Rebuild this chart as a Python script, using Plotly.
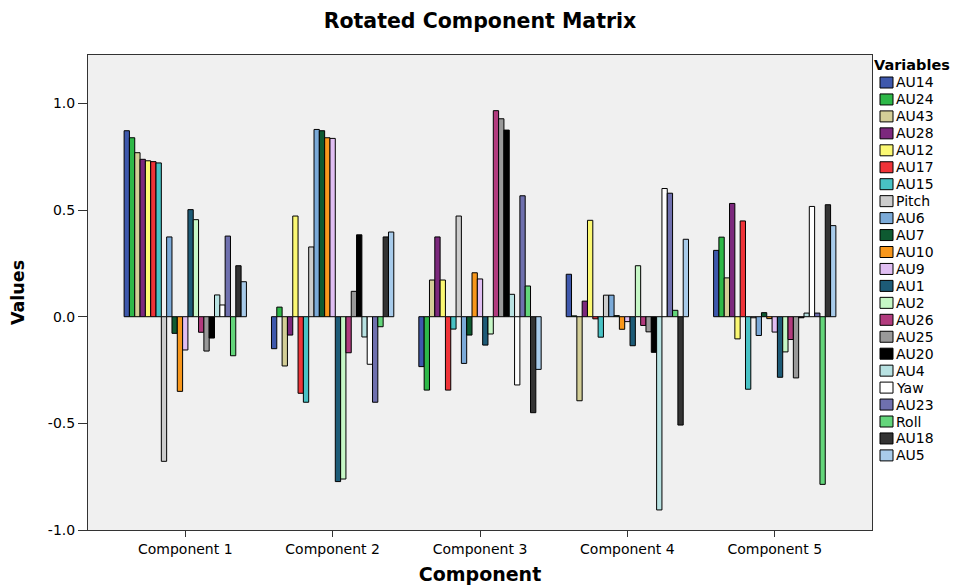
import plotly.graph_objects as go

components = ["Component 1", "Component 2", "Component 3", "Component 4", "Component 5"]
variables = ["AU14", "AU24", "AU43", "AU28", "AU12", "AU17", "AU15", "Pitch", "AU6", "AU7",
             "AU10", "AU9", "AU1", "AU2", "AU26", "AU25", "AU20", "AU4", "Yaw", "AU23",
             "Roll", "AU18", "AU5"]
colors = ["#3E58AC", "#2EB848", "#D3CE97", "#7C287D", "#FBF873", "#EF3338", "#48C2C5",
          "#CCCCCC", "#7BAAD8", "#0E5A31", "#F8971C", "#E0BEF2", "#1D5B77", "#C6F7C6",
          "#B23B7E", "#999999", "#000000", "#B8E2E2", "#FFFFFF", "#6F70AE", "#63D57A",
          "#333333", "#A8CBEA"]

comp1 = [0.872, 0.839, 0.769, 0.738, 0.731, 0.727, 0.721, -0.678, 0.374, -0.078,
         -0.350, -0.156, 0.502, 0.455, -0.073, -0.161, -0.100, 0.102, 0.055, 0.378,
         -0.183, 0.239, 0.164]
comp2 = [-0.150, 0.045, -0.231, -0.086, 0.472, -0.359, -0.401, 0.327, 0.878, 0.872,
         0.839, 0.836, -0.773, -0.761, -0.169, 0.119, 0.384, -0.095, -0.223, -0.401,
         -0.047, 0.374, 0.397]
comp3 = [-0.234, -0.344, 0.172, 0.374, 0.172, -0.344, -0.058, 0.472, -0.219, -0.086,
         0.206, 0.177, -0.133, -0.081, 0.966, 0.928, 0.875, 0.105, -0.320, 0.567,
         0.144, -0.450, -0.247]
comp4 = [0.199, 0.004, -0.394, 0.073, 0.452, -0.010, -0.096, 0.101, 0.101, 0.005,
         -0.059, -0.023, -0.136, 0.239, -0.041, -0.071, -0.167, -0.906, 0.601, 0.579,
         0.030, -0.508, 0.363]
comp5 = [0.311, 0.373, 0.182, 0.531, -0.104, 0.449, -0.340, -0.005, -0.088, 0.019,
         -0.009, -0.072, -0.284, -0.165, -0.107, -0.287, -0.005, 0.017, 0.517, 0.017,
         -0.786, 0.525, 0.427]

y_ticks = [-1.0, -0.5, 0.0, 0.5, 1.0]
y_ticklabels = ["-1.0", "-0.5", "0.0", "0.5", "1.0"]

FONT = "DejaVu Sans, Liberation Sans, Arial, sans-serif"
comps = [comp1, comp2, comp3, comp4, comp5]

# figure geometry (page body has an 8px margin)
W, H = 950, 577
ML, MR, MT, MB = 80, 86, 47, 55
PW, PH = W - ML - MR, H - MT - MB
OFF = 8


def px_x(sx):
    return (sx - OFF - ML) / PW


def px_y(sy):
    return (H - MB - (sy - OFF)) / PH


fig = go.Figure()
for i, (var, col) in enumerate(zip(variables, colors)):
    fig.add_trace(go.Bar(
        name=var,
        x=components,
        y=[c[i] for c in comps],
        marker=dict(color=col, line=dict(color="#000000", width=1)),
        showlegend=False,
    ))

# custom legend (SPSS style, compact)
shapes = []
annotations = [dict(text="<b>Variables</b>", xref="paper", yref="paper",
                    x=px_x(872), y=px_y(65), xanchor="left", yanchor="middle",
                    showarrow=False, font=dict(family=FONT, size=14.5, color="#000000"))]
step = 16.95
for i, (var, col) in enumerate(zip(variables, colors)):
    cy = 82.5 + step * i
    shapes.append(dict(type="rect", xref="paper", yref="paper",
                       x0=px_x(880), x1=px_x(893), y0=px_y(cy - 5.5), y1=px_y(cy + 5.5),
                       fillcolor=col, line=dict(color="#000000", width=1)))
    annotations.append(dict(text=var, xref="paper", yref="paper",
                            x=px_x(894), y=px_y(cy), xanchor="left", yanchor="middle",
                            showarrow=False, font=dict(family=FONT, size=14, color="#000000")))

fig.update_layout(
    width=W, height=H,
    barmode="group", bargap=0.17, bargroupgap=0,
    paper_bgcolor="#FFFFFF", plot_bgcolor="#F0F0F0",
    margin=dict(l=ML, r=MR, t=MT, b=MB, autoexpand=False),
    font=dict(family=FONT, size=14, color="#000000"),
    title=dict(text="<b>Rotated Component Matrix</b>", x=0.5, xref="paper", xanchor="center",
               y=1 - 13 / H, yref="container", yanchor="middle",
               font=dict(family=FONT, size=20.5, color="#000000")),
    showlegend=False,
    shapes=shapes,
    annotations=annotations,
    xaxis=dict(
        type="category", range=[-0.66, 4.66], automargin=False,
        title=dict(text="<b>Component</b>", font=dict(family=FONT, size=19), standoff=14),
        showline=True, linecolor="#333333", linewidth=1, mirror=True,
        ticks="outside", ticklen=6, tickcolor="#333333", showgrid=False,
        tickfont=dict(family=FONT, size=14),
    ),
    yaxis=dict(
        range=[-1.0, 1.227], tickvals=y_ticks, ticktext=y_ticklabels, automargin=False,
        title=dict(text="<b>Values</b>", font=dict(family=FONT, size=17.5), standoff=18),
        showline=True, linecolor="#333333", linewidth=1, mirror=True,
        ticks="outside", ticklen=9, tickcolor="#333333", showgrid=False, zeroline=False,
        tickfont=dict(family=FONT, size=14),
    ),
)

fig.write_html("out.html")
